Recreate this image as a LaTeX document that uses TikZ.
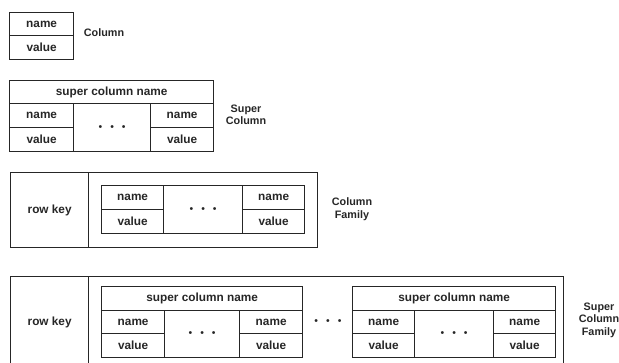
\documentclass[tikz,border=0pt]{standalone}
\usepackage{fontspec}
\setmainfont{Liberation Sans}
\begin{document}
\begin{tikzpicture}[x=1pt,y=-1pt,
  every node/.style={font=\fontsize{11.8}{13}\selectfont\bfseries, text=black!85},
  cell/.style={draw=black!85, line width=1.3pt, rectangle, inner sep=0pt, anchor=north west},
  lbl/.style={align=center, font=\fontsize{10.8}{12.5}\selectfont\bfseries},
  dotsx/.style={font=\fontsize{10.5}{12}\selectfont}
]
\useasboundingbox (0,0) rectangle (619,363);
\clip (0,0) rectangle (619,363);
\newcommand{\ddd}{•\hspace{8pt}•\hspace{8pt}•}
% Column
\node[cell, minimum width=64, minimum height=23] (c1n) at (9,12) {name};
\node[cell, minimum width=64, minimum height=24] (c1v) at (9,35) {value};
\node[lbl] (lc) at (104,33) {Column};
% Super column
\node[cell, minimum width=204, minimum height=23] (s1h) at (9,80) {super column name};
\node[cell, minimum width=64, minimum height=24] (s1n1) at (9,103) {name};
\node[cell, minimum width=64, minimum height=24] (s1v1) at (9,127) {value};
\node[cell, minimum width=77, minimum height=48, dotsx] (s1d) at (73,103) {\ddd};
\node[cell, minimum width=63, minimum height=24] (s1n2) at (150,103) {name};
\node[cell, minimum width=63, minimum height=24] (s1v2) at (150,127) {value};
\node[lbl] (lsc) at (246,115) {Super\\Column};
% Column family
\node[cell, minimum width=78, minimum height=75] (cfk) at (10,172) {row key};
\node[cell, minimum width=229, minimum height=75] (cfr) at (88,172) {};
\node[cell, minimum width=62, minimum height=24] (cfn1) at (101,185) {name};
\node[cell, minimum width=62, minimum height=24] (cfv1) at (101,209) {value};
\node[cell, minimum width=79, minimum height=48, dotsx] (cfd) at (163,185) {\ddd};
\node[cell, minimum width=62, minimum height=24] (cfn2) at (242,185) {name};
\node[cell, minimum width=62, minimum height=24] (cfv2) at (242,209) {value};
\node[lbl] (lcf) at (352,209) {Column\\Family};
% Super column family
\node[cell, minimum width=78, minimum height=92] (sfk) at (10,276) {row key};
\node[cell, minimum width=475, minimum height=92] (sfr) at (88,276) {};
% SC1
\node[cell, minimum width=201, minimum height=24] (ah) at (101,286) {super column name};
\node[cell, minimum width=63, minimum height=23] (an1) at (101,310) {name};
\node[cell, minimum width=63, minimum height=24] (av1) at (101,333) {value};
\node[cell, minimum width=75, minimum height=47, dotsx] (ad) at (164,310) {\ddd};
\node[cell, minimum width=63, minimum height=23] (an2) at (239,310) {name};
\node[cell, minimum width=63, minimum height=24] (av2) at (239,333) {value};
\node[dotsx] (mid) at (328,322) {\ddd};
% SC2
\node[cell, minimum width=203, minimum height=24] (bh) at (352,286) {super column name};
\node[cell, minimum width=62, minimum height=23] (bn1) at (352,310) {name};
\node[cell, minimum width=62, minimum height=24] (bv1) at (352,333) {value};
\node[cell, minimum width=79, minimum height=47, dotsx] (bd) at (414,310) {\ddd};
\node[cell, minimum width=62, minimum height=23] (bn2) at (493,310) {name};
\node[cell, minimum width=62, minimum height=24] (bv2) at (493,333) {value};
\node[lbl] (lscf) at (599,320) {Super\\Column\\Family};
\end{tikzpicture}
\end{document}
